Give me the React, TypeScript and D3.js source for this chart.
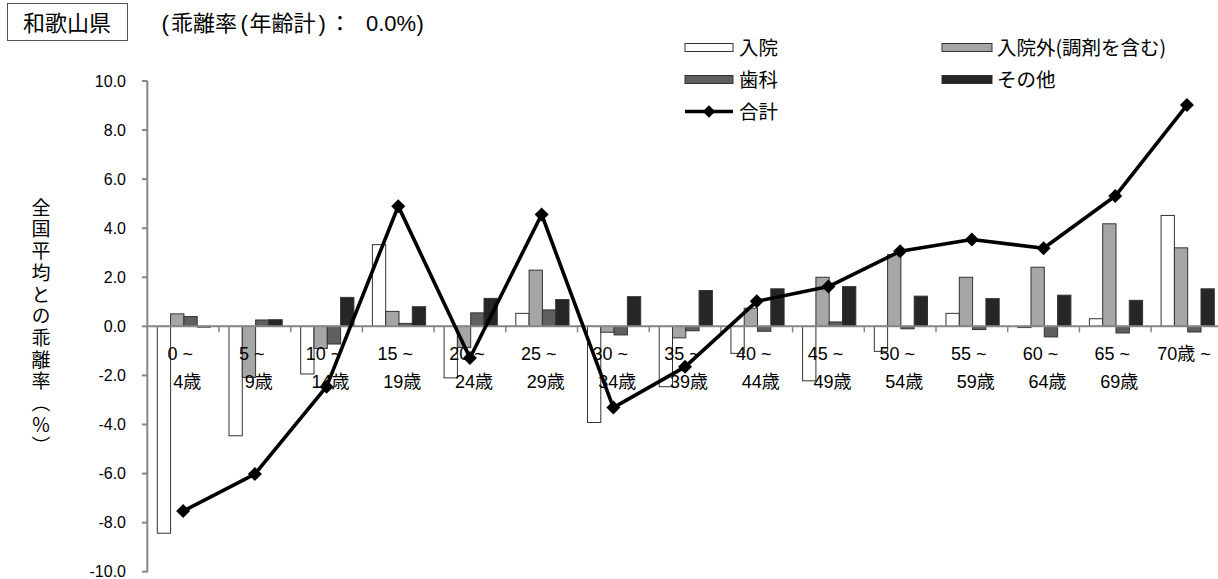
import React from "react";
import * as d3 from "d3";

const catLine1 = ["0 ~", "5 ~", "10 ~", "15 ~", "20 ~", "25 ~", "30 ~", "35 ~", "40 ~", "45 ~", "50 ~", "55 ~", "60 ~", "65 ~", "70歳 ~"];
const catLine2 = ["4歳", "9歳", "14歳", "19歳", "24歳", "29歳", "34歳", "39歳", "44歳", "49歳", "54歳", "59歳", "64歳", "69歳", ""];

const inpatient = [-8.43, -4.46, -1.94, 3.33, -2.1, 0.53, -3.92, -2.46, -1.1, -2.22, -1.02, 0.53, -0.05, 0.31, 4.52];
const outpatient = [0.51, -2.08, -0.9, 0.61, -0.86, 2.29, -0.24, -0.47, 0.74, 2.0, 2.93, 2.0, 2.41, 4.18, 3.2];
const dental = [0.4, 0.26, -0.72, 0.12, 0.55, 0.67, -0.35, -0.18, -0.2, 0.18, -0.1, -0.13, -0.43, -0.27, -0.23];
const other = [-0.02, 0.27, 1.18, 0.8, 1.14, 1.09, 1.21, 1.46, 1.53, 1.62, 1.23, 1.13, 1.27, 1.06, 1.53];
const total = [-7.53, -6.02, -2.46, 4.9, -1.29, 4.56, -3.31, -1.65, 1.02, 1.62, 3.06, 3.54, 3.18, 5.31, 9.02];

const seriesNames = ["入院", "入院外(調剤を含む)", "歯科", "その他"];
const seriesData = [inpatient, outpatient, dental, other];
const seriesColors = ["#ffffff", "#a6a6a6", "#5f5f5f", "#262626"];
const totalName = "合計";
const yTicks = [-10, -8, -6, -4, -2, 0, 2, 4, 6, 8, 10];

const prefName = "和歌山県";
const subtitleParts = ["(", "乖離率", "(", "年齢計", ")", "：", "0.0%", ")"];
const yTitle = "全国平均との乖離率（％）";

const LATIN = "'Liberation Sans', Arial, 'Noto Sans CJK JP', sans-serif";
const CJK = "'Noto Sans CJK JP', 'Liberation Sans', sans-serif";

export default function App() {
  const width = 1218;
  const height = 579;
  const idx = catLine1.map((_, i) => String(i));

  const x0 = d3.scaleBand<string>().domain(idx).range([147.3, 1222.8]).padding(0);
  const bw = x0.bandwidth();
  const x1 = d3.scaleBand<string>().domain(seriesNames).range([10, 10 + 53.2]).padding(0);
  const y = d3.scaleLinear().domain([-10, 10]).range([571.7, 81]);
  const y0 = y(0);

  const line = d3
    .line<number>()
    .x((_, i) => (x0(String(i)) as number) + bw / 2)
    .y((d) => y(d));

  const diamond = d3.symbol(d3.symbolSquare, 98)() as string;
  const diamondLegend = d3.symbol(d3.symbolSquare, 80)() as string;

  const axisColor = "#868686";
  const subX = [161.5, 171, 240.5, 249.5, 318.5, 329, 366, 416.5];
  const subFonts = [LATIN, CJK, LATIN, CJK, LATIN, CJK, LATIN, LATIN];

  return (
    <svg
      width={width}
      height={height}
      style={{ position: "absolute", left: 0, top: 0, background: "#fff" }}
    >
      <rect x={0} y={0} width={width} height={height} fill="#fff" />
      {/* title box */}
      <rect x={7.5} y={3.5} width={120} height={37} fill="#fff" stroke="#555" strokeWidth={1} />
      <text x={67} y={30.5} textAnchor="middle" fontFamily={CJK} fontSize={22} fill="#000">
        {prefName}
      </text>
      <text y={30.5} fontSize={22} fill="#000">
        {subtitleParts.map((s, i) => (
          <tspan key={i} x={subX[i]} fontFamily={subFonts[i]}>
            {s}
          </tspan>
        ))}
      </text>

      {/* legend */}
      {seriesNames.map((name, i) => {
        const col = i % 2;
        const row = Math.floor(i / 2);
        const lx = col === 0 ? 685 : 942;
        const ly = 47.5 + row * 32;
        return (
          <g key={name}>
            <rect x={lx} y={ly - 4} width={col === 0 ? 48 : 50} height={8} fill={seriesColors[i]} stroke="#333" strokeWidth={1} />
            <text x={lx + (col === 0 ? 54 : 55)} y={ly + 7} fontFamily={CJK} fontSize={19.5} fill="#000">
              {name}
            </text>
          </g>
        );
      })}
      <g>
        <line x1={685} x2={733} y1={111.5} y2={111.5} stroke="#000" strokeWidth={3.5} />
        <path d={diamondLegend} transform="translate(709,111.5) rotate(45)" fill="#000" />
        <text x={739} y={118.5} fontFamily={CJK} fontSize={19.5} fill="#000">
          {totalName}
        </text>
      </g>

      {/* y axis title */}
      <text
        x={41}
        y={198}
        fontFamily={CJK}
        fontSize={19}
        fill="#000"
        style={{ writingMode: "vertical-rl" as any }}
        letterSpacing={2.7}
      >
        {yTitle}
      </text>

      {/* bars */}
      {seriesData.map((arr, si) =>
        arr.map((v, i) => {
          const bx = (x0(String(i)) as number) + (x1(seriesNames[si]) as number);
          const top = Math.min(y(v), y0);
          const h = Math.abs(y(v) - y0);
          return (
            <rect
              key={`${si}-${i}`}
              x={bx}
              y={top}
              width={x1.bandwidth()}
              height={Math.max(h, 0.8)}
              fill={seriesColors[si]}
              stroke="#333"
              strokeWidth={1}
            />
          );
        })
      )}

      {/* y axis */}
      <line x1={147.3} x2={147.3} y1={81} y2={572} stroke={axisColor} strokeWidth={2} />
      {yTicks.map((t) => (
        <g key={t}>
          <line x1={142} x2={147.3} y1={y(t)} y2={y(t)} stroke={axisColor} strokeWidth={2} />
          <text x={126} y={y(t) + 5.5} textAnchor="end" fontFamily={LATIN} fontSize={16} fill="#000">
            {t.toFixed(1)}
          </text>
        </g>
      ))}

      {/* x axis */}
      <line x1={147.3} x2={width} y1={y0} y2={y0} stroke={axisColor} strokeWidth={2} />
      {idx.map((k) => (
        <line key={k} x1={(x0(k) as number) + bw} x2={(x0(k) as number) + bw} y1={y0} y2={y0 + 6} stroke={axisColor} strokeWidth={1.5} />
      ))}
      {idx.map((k, i) => {
        const cx = (x0(k) as number) + bw / 2;
        return (
          <g key={`lab${k}`}>
            <text x={cx - 3} y={y0 + 34} textAnchor="middle" fontFamily={LATIN} fontSize={18} fill="#000">
              {catLine1[i]}
            </text>
            <text x={cx + 4} y={y0 + 62} textAnchor="middle" fontFamily={LATIN} fontSize={18} fill="#000">
              {catLine2[i]}
            </text>
          </g>
        );
      })}

      {/* total line */}
      <path d={line(total) as string} fill="none" stroke="#000" strokeWidth={3.6} strokeLinejoin="round" />
      {total.map((v, i) => (
        <path
          key={`m${i}`}
          d={diamond}
          transform={`translate(${(x0(String(i)) as number) + bw / 2},${y(v)}) rotate(45)`}
          fill="#000"
        />
      ))}
    </svg>
  );
}
